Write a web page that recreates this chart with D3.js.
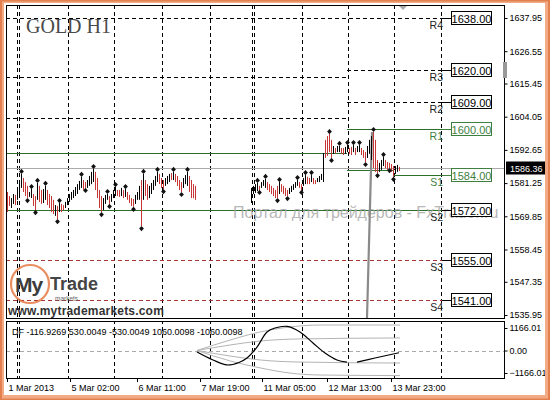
<!DOCTYPE html>
<html><head><meta charset="utf-8">
<script src="https://cdn.jsdelivr.net/npm/d3@7"></script>
<style>body{margin:0;background:#fff}svg{display:block}text{font-family:"Liberation Sans",Arial,sans-serif}</style>
</head><body><svg id="c" width="550" height="400"></svg>
<script>
// ---------- DATA ----------
const seg1Start = 0;
const seg1High = [1578.2,1576.8,1576.1,1577.5,1577.2,1578.9,1581.6,1584.4,1583.0,1581.6,
 1580.3,1578.2,1579.2,1577.5,1576.8,1581.3,1580.3,1578.9,1579.2,1580.3,
 1578.9,1577.5,1576.8,1575.5,1573.7,1573.4,1574.4,1574.1,1573.7,1574.8,
 1576.1,1577.5,1578.2,1578.9,1579.9,1580.9,1582.0,1583.4,1582.3,1581.6,
 1582.3,1583.7,1585.1,1586.1,1585.1,1583.0,1578.9,1576.8,1576.1,1577.2,
 1577.5,1576.8,1577.5,1578.9,1579.9,1578.9,1578.9,1579.6,1578.9,1579.2,
 1578.2,1577.2,1576.1,1575.8,1577.2,1578.2,1580.3,1582.3,1584.4,1582.3,
 1580.9,1580.3,1581.3,1582.3,1583.7,1585.1,1584.4,1583.0,1582.3,1583.0,
 1583.7,1584.4,1584.7,1585.1,1584.4,1583.7,1582.3,1581.6,1583.0,1584.0,
 1585.1,1583.7,1582.3,1580.9,1580.3];
const seg1Low = [1571.3,1573.4,1572.7,1574.1,1573.7,1575.5,1576.8,1579.6,1578.2,1576.8,
 1576.1,1576.5,1576.1,1573.4,1572.0,1575.5,1574.8,1574.1,1574.4,1575.5,
 1573.7,1572.7,1571.3,1570.6,1570.0,1568.9,1571.3,1571.3,1572.0,1572.7,
 1573.7,1574.8,1575.5,1576.1,1576.8,1577.5,1578.9,1579.6,1578.9,1579.6,
 1579.6,1580.3,1580.9,1581.6,1578.9,1576.1,1572.7,1571.3,1572.0,1574.1,
 1575.5,1574.1,1574.8,1576.1,1576.8,1576.8,1576.5,1576.8,1576.1,1576.5,
 1575.5,1574.4,1573.4,1573.1,1574.1,1575.5,1575.5,1566.5,1575.5,1576.8,
 1575.5,1576.1,1577.5,1578.9,1580.3,1581.6,1580.9,1579.6,1579.2,1580.3,
 1580.9,1581.6,1582.3,1582.3,1581.6,1580.3,1578.9,1578.2,1579.6,1580.9,
 1580.3,1578.2,1576.1,1576.1,1575.5];
const seg1Dir = [-1,-1,1,1,-1,1,1,1,-1,-1, -1,1,1,-1,-1,1,-1,-1,1,1,
 -1,-1,-1,-1,1,-1,1,-1,-1,1, 1,1,1,1,1,1,1,1,-1,-1,
 1,1,1,1,-1,-1,-1,-1,1,1, 1,-1,1,1,1,-1,-1,1,-1,1,
 -1,-1,-1,-1,1,1,1,-1,1,-1, -1,1,1,1,1,1,-1,-1,-1,1,
 1,1,-1,1,-1,-1,-1,-1,1,1, 1,-1,-1,-1,-1];
const seg1FracUp = [7,12,15,19,26,37,43,50,54,59,68,75,83,90];
const seg1FracDn = [10,14,25,39,47,51,63,67,78,87];

const seg2Start = 122;
const seg2High = [1579.6,1580.3,1580.9,1581.3,1580.3,1581.6,1582.3,1582.7,1581.6,1580.9,
 1580.3,1579.6,1578.9,1580.3,1581.6,1580.9,1580.3,1579.6,1578.9,1579.6,
 1580.3,1580.9,1581.6,1582.3,1581.6,1580.9,1583.0,1584.0,1583.4,1583.0,
 1584.0,1583.0,1582.3,1583.0,1583.7,1584.4,1591.6,1596.1,1597.4,1598.1,
 1596.1,1594.0,1593.3,1594.0,1594.0,1593.3,1593.3,1593.7,1594.3,1593.3,
 1593.7,1594.3,1593.3,1594.0,1594.3,1593.3,1592.6,1591.9,1594.0,1596.1,
 1597.4,1598.8,1596.1,1589.2,1588.2,1589.2,1590.2,1589.2,1588.5,1588.2,
 1587.8,1587.1,1587.1,1587.5,1586.8];
const seg2Low = [1574.4,1577.5,1577.9,1578.5,1578.9,1579.6,1580.3,1579.6,1578.9,1578.2,
 1577.5,1576.8,1576.1,1576.1,1577.5,1578.2,1577.5,1576.8,1576.8,1577.5,
 1578.2,1578.9,1579.6,1580.3,1579.6,1578.9,1580.3,1580.9,1580.9,1580.9,
 1581.6,1580.9,1580.9,1581.6,1581.6,1582.3,1581.6,1589.9,1590.6,1591.9,
 1589.9,1591.3,1591.3,1591.9,1591.9,1591.3,1590.9,1591.3,1591.9,1591.3,
 1590.9,1591.9,1590.9,1591.9,1591.9,1590.9,1589.9,1588.5,1589.9,1591.3,
 1589.2,1586.4,1585.1,1584.7,1585.1,1585.8,1587.1,1586.4,1585.8,1586.4,
 1585.1,1583.4,1584.4,1585.1,1585.4];
const seg2Dir = [1,1,1,1,-1,1,1,1,-1,-1, -1,-1,-1,-1,1,-1,-1,-1,-1,1,
 1,1,1,1,-1,-1,1,1,-1,-1, 1,-1,-1,1,1,1,1,-1,-1,-1,
 -1,1,-1,1,1,-1,-1,1,1,-1, -1,1,-1,1,1,-1,-1,-1,1,1,
 1,-1,-1,-1,1,1,1,-1,-1,-1, -1,-1,1,1,-1];
const seg2FracUp = [3,7,14,23,27,30,39,44,48,51,54,61,66];
const seg2FracDn = [4,13,18,25,40,57,63,69,71];

const priceTicks = [1637.95,1626.55,1615.45,1604.05,1592.65,1581.25,1569.85,1558.45,1547.35,1535.95];
const timeLabels = ["1 Mar 2013","5 Mar 02:00","6 Mar 11:00","7 Mar 19:00","11 Mar 05:00","12 Mar 13:00","13 Mar 23:00"];
const timeLabelBars = [0,31.5,65,96.5,127.5,160,192];
const separatorBars = [5,6,30.5,53.5,77.5,101.5,122.5,123.5,147.5,170.5,193.5,217];

const pivotNames = ["R4","R3","R2","R1","S1","S2","S3","S4"];
const pivotValues = [1638,1620,1609,1600,1584,1572,1555,1541];
const prevPivotValues = [1617.7,1603.6,1591.6,1585.8];
const bidPrice = 1586.36;
const verticalMarker = [[182.5,1598.8],[180,1534.9]];

const dfLabel = "DF -116.9269 530.0049 -530.0049 1060.0098 -1060.0098";
const dfTicks = [1166.01,0,-1166.01];
const dfMainA = [[95,-78],[103,-490],[110,-750],[116,-620],[120,-390],[125,180],[130,960],[134,1165],[140,1250],[146.5,960],[153,390],[159,-130],[165,-490],[170,-600]];
const dfMainB = [[175,-600],[184,-390],[196,-117]];
const dfBandUp2 = [[95,0],[111.5,540],[126.5,960],[141.5,1220],[156.5,1320],[196.5,1320]];
const dfBandUp1 = [[95,0],[111.5,285],[126.5,490],[146.5,600],[196.5,650]];
const dfBandDn1 = [[95,0],[111.5,-285],[126.5,-490],[146.5,-600],[196.5,-650]];
const dfBandDn2 = [[95,0],[111.5,-540],[126.5,-900],[141.5,-1170],[156.5,-1270],[196.5,-1300]];

// ---------- DRAW ----------
const svg = d3.select("#c");
const W=550,H=400, L=6,R=505,T=5,B=318,IT=321,IB=379;
const x = d3.scaleLinear().domain([0,249]).range([7,505]);
const y = d3.scaleLinear().domain([1535.95,1637.95]).range([315,18]);
const yd = d3.scaleLinear().domain([-1166.01,1166.01]).range([373,328]);

// frame
svg.append("rect").attr("width",W).attr("height",H).attr("fill","#e3804f");
svg.append("rect").attr("x",2).attr("y",1.5).attr("width",W-4).attr("height",H-3).attr("fill","#f3ab85");
svg.append("rect").attr("x",4).attr("y",3).attr("width",541).attr("height",392).attr("fill","#fff");

const defs = svg.append("defs");
defs.append("clipPath").attr("id","cm").append("rect").attr("x",L).attr("y",T).attr("width",R-L).attr("height",B-T);
defs.append("clipPath").attr("id","ci").append("rect").attr("x",L).attr("y",IT).attr("width",R-L).attr("height",IB-IT);
defs.append("clipPath").attr("id","cf").append("rect").attr("x",4).attr("y",3).attr("width",541).attr("height",392);

const root = svg.append("g").attr("clip-path","url(#cf)");
const main = root.append("g").attr("clip-path","url(#cm)");
const ind = root.append("g").attr("clip-path","url(#ci)");

// title
main.append("text").attr("x",26).attr("y",33).text("GOLD H1")
  .style("font-family","'Liberation Serif','Times New Roman',serif").style("font-size","20px").attr("fill","#4a4a4a");

// separators
[main, ind].forEach(g => {
  g.selectAll(null).data(separatorBars).enter().append("line")
   .attr("x1",d=>Math.round(x(d))+0.5).attr("x2",d=>Math.round(x(d))+0.5)
   .attr("y1",T).attr("y2",IB).attr("stroke","#000").attr("stroke-dasharray","4,3");
});

// level lines
const xs = -0.5, xe = 217.5, xm = 170, xn = 193;
const GREEN = "#2c6e2c", LGREEN="#3f7f3f", RED="#a33";
const levelSegs = [
  {v:pivotValues[0], a:xs, b:xe, c:"#000", dash:"4,3"},
  {v:prevPivotValues[0], a:xs, b:xm, c:"#000", dash:"4,3"},
  {v:pivotValues[1], a:xm, b:xe, c:"#000", dash:"4,3"},
  {v:prevPivotValues[1], a:xs, b:xm, c:"#000", dash:"4,3"},
  {v:pivotValues[2], a:xm, b:xe, c:"#000", dash:"4,3"},
  {v:prevPivotValues[2], a:xs, b:xm, c:GREEN, dash:null},
  {v:pivotValues[3], a:xm, b:xe, c:GREEN, dash:null},
  {v:prevPivotValues[3], a:xm, b:xn, c:GREEN, dash:null},
  {v:pivotValues[4], a:xn, b:xe, c:GREEN, dash:null},
  {v:pivotValues[5], a:xs, b:xe, c:GREEN, dash:null},
  {v:pivotValues[6], a:xs, b:xe, c:RED, dash:"4,3"},
  {v:pivotValues[7], a:xs, b:xe, c:RED, dash:"4,3"}
];
main.selectAll(null).data(levelSegs).enter().append("line")
  .attr("x1",d=>x(d.a)).attr("x2",d=>x(d.b))
  .attr("y1",d=>Math.round(y(d.v))+0.5).attr("y2",d=>Math.round(y(d.v))+0.5)
  .attr("stroke",d=>d.c).attr("stroke-dasharray",d=>d.dash);

// bid line
main.append("line").attr("x1",L).attr("x2",R).attr("y1",Math.round(y(bidPrice))+0.5).attr("y2",Math.round(y(bidPrice))+0.5)
  .attr("stroke","#aaa");

// watermark
main.append("text").attr("x",233).attr("y",218).text("Портал для трейдеров - FxTrader.ru")
  .style("font-size","16px").attr("fill","#a8a8a8").attr("opacity",0.8);

// vertical grey marker
main.append("line").attr("x1",x(verticalMarker[0][0])).attr("y1",y(verticalMarker[0][1]))
  .attr("x2",x(verticalMarker[1][0])).attr("y2",y(verticalMarker[1][1])).attr("stroke","#8a8a8a").attr("stroke-width",2.2);

// bars
const bars = [];
seg1High.forEach((h,k)=>bars.push({i:seg1Start+k,h,l:seg1Low[k],d:seg1Dir[k]}));
seg2High.forEach((h,k)=>bars.push({i:seg2Start+k,h,l:seg2Low[k],d:seg2Dir[k]}));
main.selectAll(null).data(bars).enter().append("line")
  .attr("x1",d=>x(d.i)+0.5).attr("x2",d=>x(d.i)+0.5)
  .attr("y1",d=>y(d.h)).attr("y2",d=>y(d.l))
  .attr("stroke",d=>d.d>0?"#000":"#c73535").attr("stroke-width",1);

// fractals
const fr = [];
seg1FracUp.forEach(k=>fr.push({i:seg1Start+k,p:seg1High[k],u:1}));
seg1FracDn.forEach(k=>fr.push({i:seg1Start+k,p:seg1Low[k],u:-1}));
seg2FracUp.forEach(k=>fr.push({i:seg2Start+k,p:seg2High[k],u:1}));
seg2FracDn.forEach(k=>fr.push({i:seg2Start+k,p:seg2Low[k],u:-1}));
main.selectAll(null).data(fr).enter().append("path")
  .attr("transform",d=>`translate(${x(d.i)+0.5},${y(d.p)-d.u*2.5})`)
  .attr("d","M0,-2.6L2.4,0L0,2.6L-2.4,0Z").attr("fill","#111");

// level labels
const lvl = pivotNames.map((n,k)=>({n,v:pivotValues[k],c:(n==="R1"||n==="S1")?LGREEN:"#000"}));
const lg = main.selectAll(null).data(lvl).enter().append("g");
lg.append("line").attr("x1",x(xe)).attr("x2",451).attr("y1",d=>Math.round(y(d.v))+0.5).attr("y2",d=>Math.round(y(d.v))+0.5).attr("stroke",d=>d.c);
lg.append("rect").attr("x",451.5).attr("y",d=>Math.round(y(d.v))-6.5).attr("width",40).attr("height",13)
  .attr("fill","#fff").attr("stroke",d=>d.c);
lg.append("text").attr("x",471.5).attr("y",d=>Math.round(y(d.v))+4.5).attr("text-anchor","middle")
  .style("font-size","11px").attr("fill",d=>d.c).text(d=>d3.format(".2f")(d.v));
lg.append("text").attr("x",443).attr("y",d=>Math.round(y(d.v))+11).attr("text-anchor","end")
  .style("font-size","10.5px").attr("fill",d=>d.c==="#000"?"#222":d.c).text(d=>d.n);

// logo
main.append("circle").attr("cx",30).attr("cy",284).attr("r",19).attr("fill","none")
  .attr("stroke","#e57a45").attr("stroke-width",2.2).attr("opacity",0.85);
main.append("text").attr("x",15).attr("y",292).text("My").style("font-size","21px").style("font-weight","bold")
  .attr("fill","#3c3c3c").attr("letter-spacing","-1");
main.append("text").attr("x",50).attr("y",290).text("Trade").style("font-size","18px").style("font-weight","bold").attr("fill","#454545");
main.append("text").attr("x",55).attr("y",301).text("markets").style("font-size","6.5px").attr("fill","#666");
main.append("text").attr("x",8).attr("y",315).text("www.mytrademarkets.com").style("font-size","12px")
  .style("font-weight","bold").attr("fill","#333").attr("letter-spacing","0.2");

// chart shift marker
root.append("path").attr("d","M399,6L407,6L403,10Z").attr("fill","#aaa");

// borders
root.append("rect").attr("x",L+0.5).attr("y",T+0.5).attr("width",R-L-1).attr("height",B-T).attr("fill","none").attr("stroke","#000");
root.append("rect").attr("x",L+0.5).attr("y",IT+0.5).attr("width",R-L-1).attr("height",IB-IT-1).attr("fill","none").attr("stroke","#000");
root.append("rect").attr("x",503).attr("y",62).attr("width",4).attr("height",16).attr("fill","#999");

// price axis
const ya = root.append("g").attr("transform",`translate(${R-0.5},0)`)
  .call(d3.axisRight(y).tickValues(priceTicks).tickSize(3).tickPadding(2).tickFormat(d3.format(".2f")));
ya.select(".domain").remove();
ya.selectAll("text").style("font-size","9px").attr("fill","#000").style("font-family","'Liberation Sans',Arial,sans-serif");

// bid label
root.append("rect").attr("x",506).attr("y",Math.round(y(bidPrice))-6.5).attr("width",42).attr("height",13).attr("fill","#000");
root.append("text").attr("x",510).attr("y",Math.round(y(bidPrice))+3.5).text(d3.format(".2f")(bidPrice))
  .style("font-size","9px").attr("fill","#fff");

// indicator
ind.append("line").attr("x1",L).attr("x2",R).attr("y1",Math.round(yd(0))+0.5).attr("y2",Math.round(yd(0))+0.5)
  .attr("stroke","#aaa").attr("stroke-dasharray","4,3");
const ln = d3.line().x(d=>x(d[0])).y(d=>yd(d[1])).curve(d3.curveMonotoneX);
[dfBandUp2,dfBandUp1,dfBandDn1,dfBandDn2].forEach(s=>{
  ind.append("path").attr("d",ln(s)).attr("fill","none").attr("stroke","#b4b4b4");
});
const lnc = d3.line().x(d=>x(d[0])).y(d=>yd(d[1])).curve(d3.curveCatmullRom);
[dfMainA,dfMainB].forEach(s=>{
  ind.append("path").attr("d",lnc(s)).attr("fill","none").attr("stroke","#000").attr("stroke-width",1.2);
});
ind.append("text").attr("x",12).attr("y",335).text(dfLabel).style("font-size","9px").attr("fill","#000");

const ia = root.append("g").attr("transform",`translate(${R-0.5},0)`)
  .call(d3.axisRight(yd).tickValues(dfTicks).tickSize(3).tickPadding(2).tickFormat(d3.format(".2f")));
ia.select(".domain").remove();
ia.selectAll("text").style("font-size","9px").attr("fill","#000").style("font-family","'Liberation Sans',Arial,sans-serif");

// time axis
const xa = root.append("g").attr("transform",`translate(0,${IB})`)
  .call(d3.axisBottom(x).tickValues(timeLabelBars).tickSize(3).tickPadding(3).tickFormat((d,k)=>timeLabels[k]));
xa.select(".domain").remove();
xa.selectAll("text").attr("text-anchor","start").attr("dx","1").style("font-size","9px").attr("fill","#000")
  .style("font-family","'Liberation Sans',Arial,sans-serif");
</script></body></html>
